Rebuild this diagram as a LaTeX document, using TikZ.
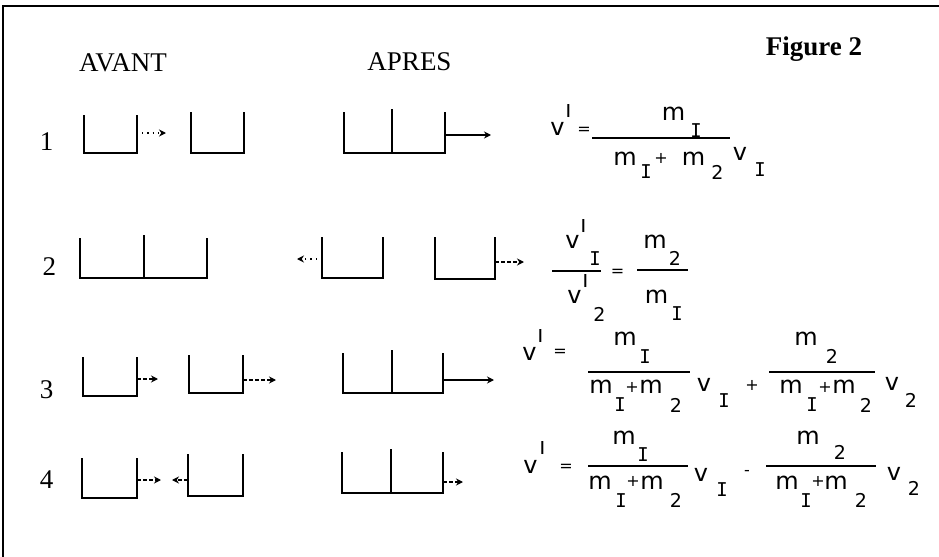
\documentclass[tikz,border=0pt]{standalone}
\usepackage{fontspec}
\setmainfont{Liberation Serif}
\newfontfamily\fml{DejaVu Sans}
\newfontfamily\fmono{DejaVu Sans Mono}
\usetikzlibrary{arrows.meta}
\newcommand\cupU[4]{\draw[cupline] (#1,#3) -- (#1,#4) -- (#2,#4) -- (#2,#3);}
\newcommand\cupW[5]{\draw[cupline] (#1,#4) -- (#1,#5) -- (#3,#5) -- (#3,#4); \draw[cupline] (#2,#4-3) -- (#2,#5);}
\newcommand\prm{\scalebox{1}[2]{'}}
\tikzset{
  cupline/.style={line width=0.9pt, line join=miter},
  lab/.style={font=\fontsize{13.5}{16}\selectfont, inner sep=0pt, anchor=base},
  labb/.style={font=\bfseries\fontsize{13.5}{16}\selectfont, inner sep=0pt, anchor=base},
  mb/.style={font=\fml\fontsize{12}{14}\selectfont, inner sep=0pt},
  sb/.style={font=\fml\fontsize{9.5}{11}\selectfont, inner sep=0pt},
  si/.style={font=\fmono\fontsize{9.5}{11}\selectfont, inner sep=0pt},
  op/.style={font=\fml\fontsize{8}{9}\selectfont, inner sep=0pt},
  pr/.style={font=\fml\fontsize{12}{14}\selectfont, inner sep=0pt},
  fbar/.style={line width=0.7pt},
  tip/.style={-{Stealth[length=3.5pt,width=3.5pt]}},
  dotarr/.style={tip, dotted, line width=0.6pt},
  dasharr/.style={tip, dash pattern=on 2pt off 1pt, line width=0.6pt},
  solarr/.style={tip, line width=0.7pt}
}
\begin{document}
\begin{tikzpicture}[x=0.5pt, y=-0.5pt]
\useasboundingbox (0,0) rectangle (939,557);
% frame
\draw[line width=1pt] (3,557) -- (3,6) -- (939,6);
% headings
\node[lab] (avant) at (123,71) {AVANT};
\node[lab] (apres) at (409.5,70) {APRES};
\node[labb] (fig) at (814,55) {Figure 2};
\node[lab] (n1) at (46.5,150) {1};
\node[lab] (n2) at (49.5,275) {2};
\node[lab] (n3) at (46.5,398) {3};
\node[lab] (n4) at (46.5,488) {4};
% ---- row 1
\cupU{84}{137}{115}{153}
\cupU{191}{244}{112}{153}
\cupW{344}{392}{445}{112}{153}
\coordinate (a1s) at (137,133); \coordinate (a1e) at (166,133);
\draw[dotarr] (a1s) -- (a1e);
\coordinate (b1s) at (445,135); \coordinate (b1e) at (491,135);
\draw[solarr] (b1s) -- (b1e);
% ---- row 2
\cupW{80}{144}{207}{238}{278}
\cupU{322}{383}{237}{278}
\cupU{435}{495}{237}{279}
\coordinate (a2s) at (322,259); \coordinate (a2e) at (297,259);
\draw[dotarr] (a2s) -- (a2e);
\coordinate (b2s) at (495,262); \coordinate (b2e) at (524,262);
\draw[dasharr] (b2s) -- (b2e);
% ---- row 3
\cupU{83}{137}{357}{396}
\cupU{189}{243}{355}{393}
\cupW{343}{392}{443}{353}{393}
\coordinate (a3s) at (137,379); \coordinate (a3e) at (158,379);
\draw[dasharr] (a3s) -- (a3e);
\coordinate (c3s) at (243,380); \coordinate (c3e) at (276,380);
\draw[dasharr] (c3s) -- (c3e);
\coordinate (b3s) at (443,380); \coordinate (b3e) at (494,380);
\draw[solarr] (b3s) -- (b3e);
% ---- row 4
\cupU{82}{137}{458}{498}
\cupU{188}{243}{454}{496}
\cupW{342}{391}{443}{452}{493}
\coordinate (a4s) at (137,480); \coordinate (a4e) at (161,480);
\draw[dasharr] (a4s) -- (a4e);
\coordinate (c4s) at (188,480); \coordinate (c4e) at (172,480);
\draw[dasharr] (c4s) -- (c4e);
\coordinate (b4s) at (443,482); \coordinate (b4e) at (463,482);
\draw[dasharr] (b4s) -- (b4e);
% ---- formula 1
\node[mb] (f1v) at (557.5,128.5) {v};
\node[pr] (f1p) at (568.5,122) {\prm};
\node[op] (f1eq) at (584,131) {=};
\coordinate (f1bl) at (592,138); \coordinate (f1br) at (730,138);
\draw[fbar] (f1bl) -- (f1br);
\node[mb] (f1nm) at (673.5,113.5) {m};
\node[si] (f1nI) at (696,131) {I};
\node[mb] (f1dm1) at (625,158.5) {m};
\node[si] (f1dI) at (646,171.5) {I};
\node[op] (f1dp) at (661,158) {+};
\node[mb] (f1dm2) at (693.5,158.5) {m};
\node[sb] (f1d2) at (717.5,172.5) {2};
\node[mb] (f1v2) at (740,153.5) {v};
\node[si] (f1vI) at (760,170) {I};
% ---- formula 2
\node[mb] (f2nv) at (572.5,241.5) {v};
\node[pr] (f2np) at (583.5,237) {\prm};
\node[si] (f2nI) at (595,258.5) {I};
\coordinate (f2b1l) at (552,271); \coordinate (f2b1r) at (601,271);
\draw[fbar] (f2b1l) -- (f2b1r);
\node[op] (f2eq) at (617.5,272.5) {=};
\coordinate (f2b2l) at (637,270); \coordinate (f2b2r) at (688,270);
\draw[fbar] (f2b2l) -- (f2b2r);
\node[mb] (f2nm) at (655,241.5) {m};
\node[sb] (f2n2) at (675,258.5) {2};
\node[mb] (f2dv) at (574.5,296.5) {v};
\node[pr] (f2dp) at (585.5,292) {\prm};
\node[sb] (f2d2) at (599.5,314.5) {2};
\node[mb] (f2dm) at (656.5,296.5) {m};
\node[si] (f2dI) at (677,313.5) {I};
% ---- formula 3
\node[mb] (f3v) at (529.5,354) {v};
\node[pr] (f3p) at (541,347) {\prm};
\node[op] (f3eq) at (560,353) {=};
\coordinate (f3b1l) at (588,372); \coordinate (f3b1r) at (690,372);
\draw[fbar] (f3b1l) -- (f3b1r);
\node[mb] (f3nm) at (625,339) {m};
\node[si] (f3nI) at (645,357) {I};
\node[mb] (f3dm1) at (601,387) {m};
\node[si] (f3dI) at (620,405) {I};
\node[op] (f3dp) at (632,387) {+};
\node[mb] (f3dm2) at (651,387) {m};
\node[sb] (f3d2) at (676,405) {2};
\node[mb] (f3v1) at (704,385) {v};
\node[si] (f3v1I) at (724,401) {I};
\node[op] (f3plus) at (752,385) {+};
\coordinate (f3b2l) at (769,372); \coordinate (f3b2r) at (875,372);
\draw[fbar] (f3b2l) -- (f3b2r);
\node[mb] (f3nm2) at (806,339) {m};
\node[sb] (f3n2) at (832,356) {2};
\node[mb] (f3em1) at (791,387) {m};
\node[si] (f3eI) at (812,405) {I};
\node[op] (f3ep) at (825,387) {+};
\node[mb] (f3em2) at (844,387) {m};
\node[sb] (f3e2) at (866,405) {2};
\node[mb] (f3v2) at (892,384) {v};
\node[sb] (f3v22) at (911,400) {2};
% ---- formula 4
\node[mb] (f4v) at (530.5,466.5) {v};
\node[pr] (f4p) at (543,459) {\prm};
\node[op] (f4eq) at (566,467.5) {=};
\coordinate (f4b1l) at (588,466); \coordinate (f4b1r) at (688,466);
\draw[fbar] (f4b1l) -- (f4b1r);
\node[mb] (f4nm) at (624,437.5) {m};
\node[si] (f4nI) at (643,455) {I};
\node[mb] (f4dm1) at (600,482.5) {m};
\node[si] (f4dI) at (621,500.5) {I};
\node[op] (f4dp) at (633,481) {+};
\node[mb] (f4dm2) at (652,482.5) {m};
\node[sb] (f4d2) at (676,500.5) {2};
\node[mb] (f4v1) at (701,474.5) {v};
\node[si] (f4v1I) at (722,490) {I};
\node[op] (f4minus) at (747,473) {-};
\coordinate (f4b2l) at (766,466); \coordinate (f4b2r) at (876,466);
\draw[fbar] (f4b2l) -- (f4b2r);
\node[mb] (f4nm2) at (808,437.5) {m};
\node[sb] (f4n2) at (840,452.5) {2};
\node[mb] (f4em1) at (787,482.5) {m};
\node[si] (f4eI) at (806,500.5) {I};
\node[op] (f4ep) at (818,481) {+};
\node[mb] (f4em2) at (836,482.5) {m};
\node[sb] (f4e2) at (861,500.5) {2};
\node[mb] (f4v2) at (894,473.5) {v};
\node[sb] (f4v22) at (914,488.5) {2};
\end{tikzpicture}
\end{document}
